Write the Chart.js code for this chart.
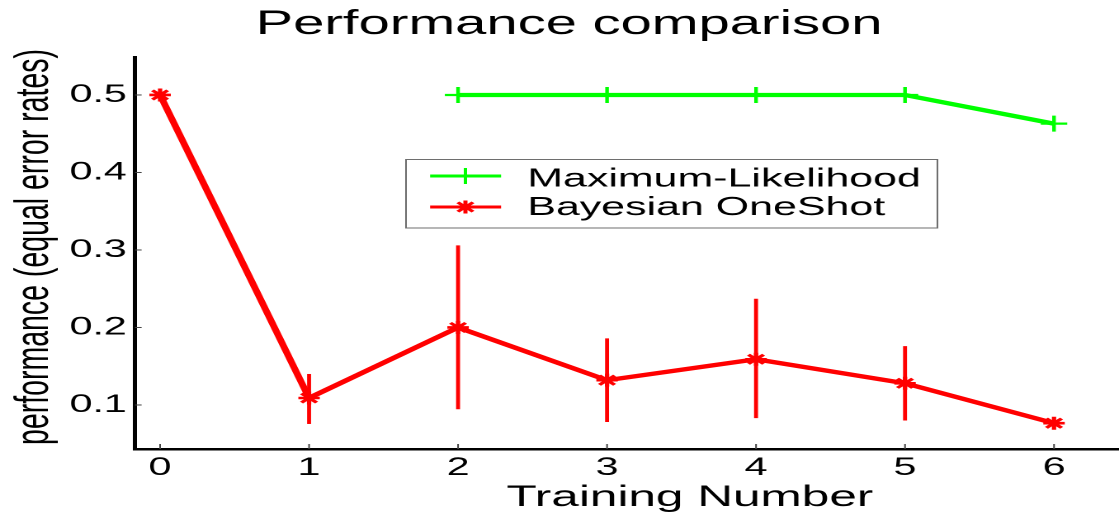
<!DOCTYPE html>
<html>
<head>
<meta charset="utf-8">
<script src="https://cdn.jsdelivr.net/npm/chart.js@4.4.1/dist/chart.umd.min.js"></script>
<style>
  html, body { margin: 0; padding: 0; background: #ffffff; }
  #frame { width: 1119px; height: 513px; overflow: hidden; position: relative; background: #ffffff; }
  /* the figure is laid out on a narrower canvas and widened to the frame */
  #plot { display: block; transform: scaleX(1.6504); transform-origin: 0 0; }
</style>
</head>
<body>
<div id="frame"><canvas id="plot" width="678" height="513"></canvas></div>
<script>
// ---- data ----
const trainingNumbers = [0, 1, 2, 3, 4, 5, 6];
const bayesRates      = [0.5, 0.109, 0.2, 0.132, 0.159, 0.128, 0.0765];
const bayesErrLow     = [null, 0.0755, 0.0945, 0.078, 0.083, 0.080, null];
const bayesErrHigh    = [null, 0.140, 0.306, 0.186, 0.237, 0.176, null];

const mlTraining = [2, 3, 4, 5, 6];
const mlRates    = [0.5, 0.5, 0.5, 0.5, 0.463];

const xTickValues = [0, 1, 2, 3, 4, 5, 6];
const yTickValues = [0.1, 0.2, 0.3, 0.4, 0.5];

const seriesNames = ['Maximum-Likelihood', 'Bayesian OneShot'];
const chartTitle  = 'Performance comparison';
const xTitle      = 'Training Number';
const yTitle      = 'performance (equal error rates)';

// ---- styling ----
const GREEN = '#00ff00';
const RED   = '#ff0000';
const FONT  = '"Liberation Sans", Arial, Helvetica, sans-serif';

// vertical error bars for the Bayesian series
const errorBarPlugin = {
  id: 'errorBars',
  beforeDatasetsDraw(chart) {
    const { ctx, scales: { x, y } } = chart;
    ctx.save();
    ctx.strokeStyle = RED;
    ctx.lineWidth = 2.4;
    trainingNumbers.forEach((t, i) => {
      if (bayesErrLow[i] == null) return;
      const px = x.getPixelForValue(t);
      ctx.beginPath();
      ctx.moveTo(px, y.getPixelForValue(bayesErrLow[i]));
      ctx.lineTo(px, y.getPixelForValue(bayesErrHigh[i]));
      ctx.stroke();
    });
    ctx.restore();
  }
};

// short tick marks pointing into the axes
const innerTicksPlugin = {
  id: 'innerTicks',
  beforeDatasetsDraw(chart) {
    const { ctx, chartArea: a, scales: { x, y } } = chart;
    ctx.save();
    ctx.strokeStyle = '#444';
    ctx.lineWidth = 1;
    x.ticks.forEach(t => {
      const p = x.getPixelForValue(t.value);
      ctx.beginPath(); ctx.moveTo(p, a.bottom); ctx.lineTo(p, a.bottom - 5); ctx.stroke();
    });
    y.ticks.forEach(t => {
      const p = y.getPixelForValue(t.value);
      ctx.beginPath(); ctx.moveTo(a.left, p); ctx.lineTo(a.left + 4, p); ctx.stroke();
    });
    ctx.restore();
  }
};

// title and axis labels
const labelsPlugin = {
  id: 'figureLabels',
  afterDraw(chart) {
    const { ctx } = chart;
    ctx.save();
    ctx.fillStyle = '#000';
    ctx.textAlign = 'center';
    ctx.textBaseline = 'alphabetic';
    ctx.font = '34px ' + FONT;
    ctx.fillText(chartTitle, 344.8, 34);
    ctx.font = '30px ' + FONT;
    ctx.fillText(xTitle, 418, 506);
    ctx.translate(29, 247);
    ctx.rotate(-Math.PI / 2);
    ctx.font = '28.5px ' + FONT;
    ctx.fillText(yTitle, 0, 0);
    ctx.restore();
  }
};

// boxed legend inside the axes
const legendPlugin = {
  id: 'boxLegend',
  afterDraw(chart) {
    const { ctx } = chart;
    const box = { left: 246, top: 159.5, right: 568, bottom: 228 };
    const rows = [
      { name: seriesNames[0], color: GREEN, style: 'cross', radius: 8, width: 2, y: 176, base: 186.5 },
      { name: seriesNames[1], color: RED,   style: 'star',  radius: 6.5, width: 2.5, y: 207, base: 215 }
    ];
    ctx.save();
    ctx.fillStyle = '#fff';
    ctx.fillRect(box.left, box.top, box.right - box.left, box.bottom - box.top);
    ctx.strokeStyle = '#6e6e6e';
    ctx.lineWidth = 1;
    ctx.strokeRect(box.left, box.top, box.right - box.left, box.bottom - box.top);
    rows.forEach(r => {
      ctx.strokeStyle = r.color;
      ctx.lineWidth = 3;
      ctx.beginPath(); ctx.moveTo(260.6, r.y); ctx.lineTo(303.6, r.y); ctx.stroke();
      ctx.lineWidth = r.width;
      Chart.helpers.drawPoint(ctx, { pointStyle: r.style, radius: r.radius, rotation: 0, borderWidth: r.width }, 282, r.y);
      ctx.fillStyle = '#000';
      ctx.font = '26px ' + FONT;
      ctx.textAlign = 'left';
      ctx.textBaseline = 'alphabetic';
      ctx.fillText(r.name, 319.5, r.base);
    });
    ctx.restore();
  }
};

new Chart(document.getElementById('plot'), {
  type: 'line',
  data: {
    datasets: [
      {
        label: seriesNames[0],
        data: mlTraining.map((t, i) => ({ x: t, y: mlRates[i] })),
        borderColor: GREEN,
        backgroundColor: GREEN,
        borderWidth: 4.3,
        pointStyle: 'cross',
        pointRadius: 8,
        pointBorderWidth: 2.2,
        pointBorderColor: GREEN,
        tension: 0,
        fill: false,
        clip: false
      },
      {
        label: seriesNames[1],
        data: trainingNumbers.map((t, i) => ({ x: t, y: bayesRates[i] })),
        borderColor: RED,
        backgroundColor: RED,
        borderWidth: 4.3,
        pointStyle: 'star',
        pointRadius: 6.5,
        pointBorderWidth: 2.6,
        pointBorderColor: RED,
        tension: 0,
        fill: false,
        clip: false
      }
    ]
  },
  options: {
    responsive: false,
    devicePixelRatio: 2,
    animation: false,
    events: [],
    layout: { autoPadding: false, padding: { top: 57, left: 0, right: 0, bottom: 0 } },
    plugins: {
      legend: { display: false },
      title: { display: false },
      tooltip: { enabled: false }
    },
    scales: {
      x: {
        type: 'linear',
        min: -0.168,
        max: 6.436,
        grid: { display: false, drawTicks: false },
        border: { display: true, color: '#000', width: 2.5 },
        afterBuildTicks: s => { s.ticks = xTickValues.map(v => ({ value: v })); },
        afterFit: s => { s.height = 64; },
        ticks: {
          padding: 4,
          color: '#000',
          font: { family: FONT, size: 25 },
          maxRotation: 0,
          autoSkip: false,
          callback: v => String(v)
        }
      },
      y: {
        type: 'linear',
        min: 0.0432,
        max: 0.549,
        grid: { display: false, drawTicks: false },
        border: { display: true, color: '#000', width: 2.5 },
        afterBuildTicks: s => { s.ticks = yTickValues.map(v => ({ value: v })); },
        afterFit: s => { s.width = 81.82; },
        ticks: {
          padding: 5,
          color: '#000',
          font: { family: FONT, size: 25 },
          autoSkip: false,
          callback: v => Number(v).toFixed(1)
        }
      }
    }
  },
  plugins: [errorBarPlugin, innerTicksPlugin, labelsPlugin, legendPlugin]
});
</script>
</body>
</html>
